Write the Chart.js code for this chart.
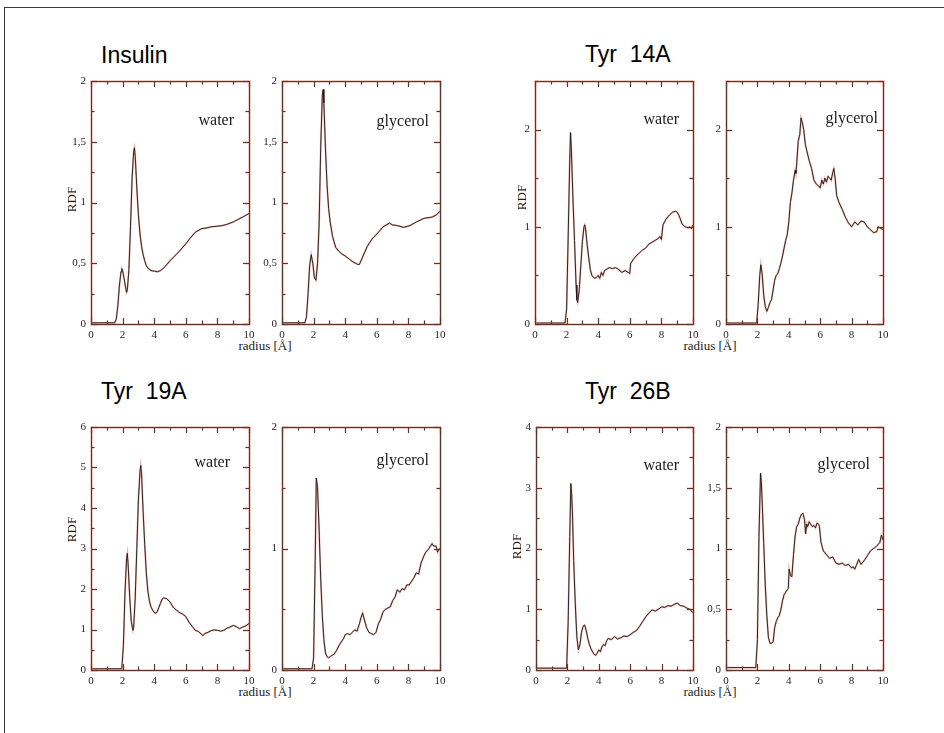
<!DOCTYPE html>
<html><head><meta charset="utf-8">
<script src="https://cdn.jsdelivr.net/npm/chart.js@4.4.0/dist/chart.umd.min.js"></script>
<style>
html,body{margin:0;padding:0;background:#fff;width:944px;height:733px;overflow:hidden;position:relative;}
#frame{position:absolute;left:4px;top:7px;width:960px;height:760px;border-top:1.5px solid #3a3a3a;border-left:1.5px solid #3a3a3a;}
.ttl{position:absolute;font-family:"Liberation Sans",Arial,sans-serif;font-size:23px;line-height:23px;white-space:pre;color:#000;}
.xt{position:absolute;font-family:"Liberation Serif","Times New Roman",serif;font-size:13px;line-height:13px;width:120px;text-align:center;color:#1a1a1a;white-space:pre;}
.pc{position:absolute;}
</style></head>
<body>
<div id="frame"></div>
<div class="ttl" style="left:101px;top:44px;">Insulin</div>
<div class="ttl" style="left:585px;top:43px;">Tyr  14A</div>
<div class="ttl" style="left:101px;top:380px;">Tyr  19A</div>
<div class="ttl" style="left:585px;top:380px;">Tyr  26B</div>
<div class="xt" style="left:205px;top:339px;">radius [Å]</div>
<div class="xt" style="left:650px;top:339px;">radius [Å]</div>
<div class="xt" style="left:205px;top:685px;">radius [Å]</div>
<div class="xt" style="left:650px;top:685px;">radius [Å]</div>
<script>
// ---- data (radius in Å, RDF values) ----
const insWaterR = [0,1.5,1.6,1.7,1.8,1.9,1.95,2.0,2.1,2.2,2.25,2.3,2.4,2.5,2.6,2.7,2.75,2.8,2.9,3.0,3.1,3.2,3.3,3.4,3.5,3.6,3.8,4.0,4.2,4.4,4.6,4.8,5.0,5.3,5.6,6.0,6.3,6.6,7.0,7.3,7.6,8.0,8.3,8.6,9.0,9.3,9.6,10];
const insWaterG = [0.01,0.01,0.04,0.15,0.32,0.43,0.455,0.44,0.37,0.29,0.26,0.28,0.45,0.8,1.2,1.42,1.45,1.38,1.12,0.9,0.74,0.64,0.57,0.52,0.48,0.46,0.44,0.435,0.43,0.44,0.46,0.49,0.52,0.56,0.6,0.66,0.71,0.755,0.785,0.79,0.8,0.805,0.81,0.82,0.84,0.86,0.88,0.91];

const insGlyR = [0,1.45,1.55,1.65,1.75,1.85,1.95,2.05,2.15,2.25,2.35,2.45,2.55,2.6,2.65,2.75,2.85,2.95,3.05,3.2,3.4,3.6,3.8,4.0,4.2,4.5,4.8,4.9,5.1,5.4,5.7,6.0,6.4,6.8,7.0,7.3,7.7,8.1,8.5,9.0,9.5,9.8,10];
const insGlyG = [0.01,0.01,0.06,0.25,0.48,0.57,0.5,0.38,0.36,0.5,0.83,1.45,1.88,1.93,1.82,1.45,1.15,0.95,0.84,0.72,0.63,0.6,0.575,0.56,0.54,0.51,0.49,0.49,0.55,0.64,0.7,0.74,0.8,0.83,0.815,0.81,0.795,0.81,0.84,0.87,0.88,0.9,0.93];

const t14WaterR = [0,1.9,2.0,2.1,2.2,2.25,2.3,2.4,2.5,2.6,2.65,2.7,2.8,2.9,3.0,3.1,3.15,3.2,3.3,3.4,3.5,3.6,3.7,3.8,3.9,4.0,4.1,4.2,4.3,4.4,4.5,4.7,4.9,5.1,5.3,5.5,5.7,5.9,6.0,6.05,6.2,6.4,6.6,6.8,7.0,7.2,7.4,7.6,7.8,7.9,8.0,8.1,8.3,8.5,8.7,8.9,9.0,9.1,9.2,9.3,9.5,9.7,9.8,9.9,10];
const t14WaterG = [0.01,0.01,0.15,0.9,1.7,1.97,1.8,1.3,0.86,0.4,0.25,0.22,0.35,0.6,0.85,1.0,1.02,0.98,0.82,0.68,0.56,0.5,0.48,0.47,0.48,0.5,0.47,0.53,0.5,0.55,0.56,0.58,0.57,0.58,0.56,0.53,0.55,0.53,0.52,0.62,0.66,0.7,0.73,0.76,0.78,0.82,0.84,0.86,0.88,0.9,0.87,1.02,1.08,1.12,1.15,1.16,1.15,1.12,1.08,1.03,1.0,0.99,1.0,0.98,1.02];

const t14GlyR = [0,1.95,2.05,2.15,2.22,2.3,2.4,2.5,2.6,2.7,2.8,2.9,3.0,3.1,3.2,3.3,3.4,3.5,3.6,3.7,3.8,3.9,4.0,4.1,4.2,4.3,4.4,4.45,4.5,4.6,4.7,4.78,4.85,4.95,5.05,5.15,5.3,5.45,5.6,5.75,5.9,6.0,6.1,6.2,6.3,6.4,6.5,6.6,6.7,6.8,6.87,6.95,7.05,7.2,7.4,7.6,7.8,8.0,8.2,8.4,8.6,8.8,9.0,9.2,9.4,9.6,9.7,9.8,10];
const t14GlyG = [0.01,0.01,0.2,0.5,0.61,0.52,0.3,0.18,0.13,0.17,0.22,0.25,0.35,0.45,0.5,0.52,0.57,0.63,0.7,0.78,0.86,0.92,1.05,1.25,1.35,1.48,1.58,1.55,1.64,1.88,1.95,2.12,2.08,2.0,1.85,1.78,1.68,1.6,1.48,1.44,1.42,1.4,1.48,1.44,1.5,1.46,1.52,1.5,1.48,1.56,1.6,1.5,1.32,1.25,1.18,1.1,1.04,1.0,1.05,1.02,1.06,1.05,1.0,0.97,0.94,0.95,1.0,0.99,0.97];

const t19WaterR = [0,1.95,2.05,2.15,2.25,2.3,2.35,2.45,2.55,2.65,2.7,2.8,2.9,3.0,3.1,3.15,3.2,3.3,3.4,3.5,3.6,3.7,3.8,3.9,4.0,4.1,4.2,4.3,4.4,4.5,4.6,4.8,5.0,5.2,5.4,5.6,5.8,6.0,6.2,6.4,6.6,6.8,7.0,7.1,7.2,7.4,7.6,7.8,8.0,8.2,8.4,8.6,8.8,9.0,9.2,9.4,9.6,9.8,10];
const t19WaterG = [0.03,0.03,0.6,1.9,2.75,2.88,2.6,1.8,1.2,0.98,1.05,1.8,3.0,4.2,4.9,5.05,4.85,3.9,3.1,2.4,1.95,1.7,1.55,1.48,1.42,1.4,1.45,1.55,1.65,1.75,1.78,1.76,1.68,1.55,1.48,1.42,1.38,1.32,1.18,1.08,0.98,0.95,0.88,0.85,0.9,0.93,0.97,0.99,0.98,0.96,0.98,1.03,1.06,1.1,1.07,1.02,1.06,1.09,1.15];

const t19GlyR = [0,1.9,2.0,2.1,2.17,2.25,2.35,2.45,2.55,2.65,2.75,2.85,2.95,3.05,3.15,3.3,3.45,3.6,3.75,3.9,4.0,4.15,4.3,4.45,4.6,4.75,4.9,5.0,5.1,5.2,5.35,5.5,5.65,5.8,5.95,6.1,6.25,6.4,6.55,6.7,6.85,7.0,7.15,7.3,7.45,7.6,7.75,7.9,8.05,8.2,8.35,8.5,8.65,8.8,8.95,9.1,9.25,9.4,9.5,9.6,9.75,9.85,9.9,10];
const t19GlyG = [0.01,0.01,0.1,0.9,1.58,1.5,1.15,0.75,0.45,0.25,0.14,0.11,0.1,0.11,0.12,0.13,0.16,0.2,0.23,0.26,0.29,0.3,0.29,0.31,0.33,0.32,0.38,0.43,0.47,0.42,0.35,0.31,0.3,0.29,0.31,0.38,0.42,0.48,0.5,0.51,0.52,0.57,0.6,0.66,0.64,0.67,0.66,0.7,0.7,0.73,0.76,0.8,0.79,0.88,0.93,0.97,0.99,1.02,1.04,1.02,1.02,0.97,0.99,1.0];

const t26WaterR = [0,1.95,2.05,2.15,2.22,2.27,2.32,2.4,2.5,2.6,2.7,2.8,2.9,3.0,3.1,3.2,3.3,3.4,3.5,3.6,3.7,3.8,3.9,4.0,4.1,4.2,4.3,4.4,4.5,4.6,4.8,5.0,5.2,5.4,5.6,5.8,6.0,6.2,6.4,6.6,6.8,7.0,7.2,7.4,7.6,7.8,8.0,8.2,8.4,8.6,8.8,9.0,9.2,9.4,9.6,9.8,10];
const t26WaterG = [0.03,0.03,0.8,2.2,3.07,2.9,2.6,1.8,1.1,0.55,0.33,0.42,0.62,0.72,0.74,0.65,0.52,0.42,0.35,0.3,0.26,0.24,0.28,0.33,0.3,0.38,0.42,0.4,0.48,0.52,0.5,0.55,0.51,0.53,0.56,0.55,0.58,0.62,0.65,0.72,0.8,0.88,0.94,0.99,0.97,1.0,1.04,1.03,1.06,1.05,1.08,1.1,1.06,1.05,1.02,1.0,0.94];

const t26GlyR = [0,1.9,2.0,2.1,2.2,2.25,2.3,2.4,2.5,2.6,2.7,2.8,2.9,3.0,3.1,3.2,3.3,3.4,3.5,3.6,3.7,3.8,3.9,3.97,4.02,4.1,4.15,4.2,4.3,4.4,4.5,4.6,4.7,4.8,4.9,5.0,5.07,5.14,5.2,5.3,5.4,5.5,5.6,5.7,5.8,5.9,5.95,6.05,6.2,6.4,6.6,6.8,7.0,7.2,7.4,7.6,7.8,8.0,8.1,8.2,8.3,8.45,8.6,8.8,9.0,9.2,9.4,9.6,9.8,9.9,10];
const t26GlyG = [0.02,0.02,0.25,1.1,1.62,1.55,1.4,1.05,0.7,0.45,0.27,0.22,0.22,0.23,0.35,0.4,0.43,0.45,0.5,0.57,0.62,0.64,0.66,0.67,0.83,0.78,0.77,0.78,0.95,1.1,1.18,1.2,1.25,1.28,1.29,1.24,1.12,1.2,1.18,1.22,1.2,1.18,1.19,1.17,1.21,1.2,1.18,1.05,0.98,0.95,0.92,0.93,0.88,0.87,0.88,0.86,0.87,0.84,0.85,0.83,0.86,0.91,0.87,0.9,0.94,0.98,1.0,1.02,1.05,1.11,1.07];

// axis settings per panel (y max, major step, minor step)
const yMaxes   = [2, 2, 2.5, 2.5, 6, 2, 4, 2];
const yMajors  = [0.5, 0.5, 1, 1, 1, 1, 1, 0.5];
const yMinors  = [0.25, 0.25, 0.5, 0.5, 0.5, 0.5, 0.5, 0.25];
const panelLabels = ['water','glycerol','water','glycerol','water','glycerol','water','glycerol'];
const xMin = 0, xMax = 10, xMajor = 2, xMinor = 1;

const seriesR = [insWaterR, insGlyR, t14WaterR, t14GlyR, t19WaterR, t19GlyR, t26WaterR, t26GlyR];
const seriesG = [insWaterG, insGlyG, t14WaterG, t14GlyG, t19WaterG, t19GlyG, t26WaterG, t26GlyG];

// ---- layout (plot-box edges in page pixels, label offsets) ----
const boxes = [
  {L:91, T:81, R:249, B:324, lx:15, ly:44, rdf:18, rdy:-3},
  {L:282,T:81, R:440, B:324, lx:11, ly:45},
  {L:535,T:81, R:693, B:324, lx:14, ly:43, rdf:12, rdy:-5},
  {L:726,T:81, R:883, B:324, lx:5,  ly:42},
  {L:91, T:427,R:249, B:670, lx:19, ly:40, rdf:18, rdy:-19},
  {L:282,T:427,R:440, B:670, lx:11, ly:38},
  {L:536,T:427,R:693, B:670, lx:14, ly:43, rdf:18, rdy:-2},
  {L:726,T:427,R:883, B:670, lx:13, ly:42}
];
const PADL = 40, PADT = 12, PADR = 12, PADB = 22;

const BOX_COL = '#5e3328', BOX_HALO = 'rgba(205,95,70,0.4)';
const fmt = v => String(v).replace('.', ',');

const framePlugin = {
  id: 'rdfFrame',
  afterDatasetsDraw(chart, args, o) {
    const ctx = chart.ctx, a = chart.chartArea;
    const xs = chart.scales.x, ys = chart.scales.y;
    const lines = [];
    for (let v = xMin; v <= xMax + 1e-9; v += xMinor) {
      const p = Math.round(xs.getPixelForValue(v)) + 0.5;
      const len = (Math.abs(v / xMajor - Math.round(v / xMajor)) < 1e-6) ? 6 : 3.5;
      lines.push([p, a.bottom, p, a.bottom - len], [p, a.top, p, a.top + len]);
    }
    for (let v = 0; v <= o.ymax + 1e-9; v += o.yminor) {
      const p = Math.round(ys.getPixelForValue(v)) + 0.5;
      const len = (Math.abs(v / o.ymajor - Math.round(v / o.ymajor)) < 1e-6) ? 6 : 3.5;
      lines.push([a.left, p, a.left + len, p], [a.right, p, a.right - len, p]);
    }
    ctx.save();
    const rect = [Math.round(a.left) + 0.5, Math.round(a.top) + 0.5, Math.round(a.right - a.left), Math.round(a.bottom - a.top)];
    ctx.strokeStyle = BOX_HALO; ctx.lineWidth = 2.2;
    ctx.strokeRect(...rect);
    ctx.strokeStyle = BOX_COL; ctx.lineWidth = 1.1;
    ctx.strokeRect(...rect);
    ctx.beginPath();
    lines.forEach(l => { ctx.moveTo(l[0], l[1]); ctx.lineTo(l[2], l[3]); });
    ctx.strokeStyle = BOX_HALO; ctx.lineWidth = 1.8; ctx.stroke();
    ctx.strokeStyle = BOX_COL; ctx.lineWidth = 1; ctx.stroke();
    // panel label
    ctx.fillStyle = '#1a1a1a';
    ctx.font = '16px "Liberation Serif", "Times New Roman", serif';
    ctx.textAlign = 'right'; ctx.textBaseline = 'alphabetic';
    ctx.fillText(o.label, a.right - o.lx, a.top + o.ly);
    if (o.rdf) {
      ctx.translate(a.left - o.rdf, (a.top + a.bottom) / 2 + o.rdy);
      ctx.rotate(-Math.PI / 2);
      ctx.fillStyle = '#2a1a16';
      ctx.font = '13px "Liberation Serif", "Times New Roman", serif';
      ctx.textAlign = 'center'; ctx.textBaseline = 'middle';
      ctx.fillText('RDF', 0, 0);
    }
    ctx.restore();
  }
};

seriesR.forEach((rs, i) => {
  const b = boxes[i];
  const w = b.R - b.L + PADL + PADR, h = b.B - b.T + PADT + PADB;
  const div = document.createElement('div');
  div.className = 'pc';
  div.style.left = (b.L - PADL) + 'px';
  div.style.top = (b.T - PADT) + 'px';
  div.style.width = w + 'px'; div.style.height = h + 'px';
  const cv = document.createElement('canvas');
  cv.width = w; cv.height = h;
  cv.style.width = w + 'px'; cv.style.height = h + 'px';
  div.appendChild(cv);
  document.body.appendChild(div);
  const pts = rs.map((r, k) => ({x: r, y: seriesG[i][k]}));
  new Chart(cv.getContext('2d'), {
    type: 'line',
    data: {
      datasets: [
        {data: pts, borderColor: '#1c1412', borderWidth: 0.9, pointRadius: 0, tension: 0, fill: false},
        {data: pts, borderColor: 'rgba(210,85,60,0.45)', borderWidth: 1.8, pointRadius: 0, tension: 0, fill: false}
      ]
    },
    options: {
      responsive: false, animation: false, devicePixelRatio: 1,
      layout: {padding: {left: 0, top: PADT, right: PADR, bottom: 0}},
      plugins: {
        legend: {display: false}, tooltip: {enabled: false}, title: {display: false},
        rdfFrame: {ymax: yMaxes[i], ymajor: yMajors[i], yminor: yMinors[i], label: panelLabels[i],
                   lx: b.lx, ly: b.ly, rdf: b.rdf || 0, rdy: b.rdy || 0}
      },
      scales: {
        x: {
          type: 'linear', min: xMin, max: xMax,
          grid: {display: false, drawTicks: false}, border: {display: false},
          ticks: {stepSize: xMajor, maxRotation: 0, autoSkip: false, padding: 5,
                  color: '#2a2220', font: {family: '"Liberation Serif", "Times New Roman", serif', size: 11},
                  callback: v => fmt(v)},
          afterFit: s => { s.height = PADB; }
        },
        y: {
          type: 'linear', min: 0, max: yMaxes[i],
          grid: {display: false, drawTicks: false}, border: {display: false},
          ticks: {stepSize: yMajors[i], includeBounds: false, autoSkip: false, padding: 5,
                  color: '#2a2220', font: {family: '"Liberation Serif", "Times New Roman", serif', size: 11},
                  callback: v => fmt(v)},
          afterFit: s => { s.width = PADL; }
        }
      }
    },
    plugins: [framePlugin]
  });
});
</script>
</body></html>
